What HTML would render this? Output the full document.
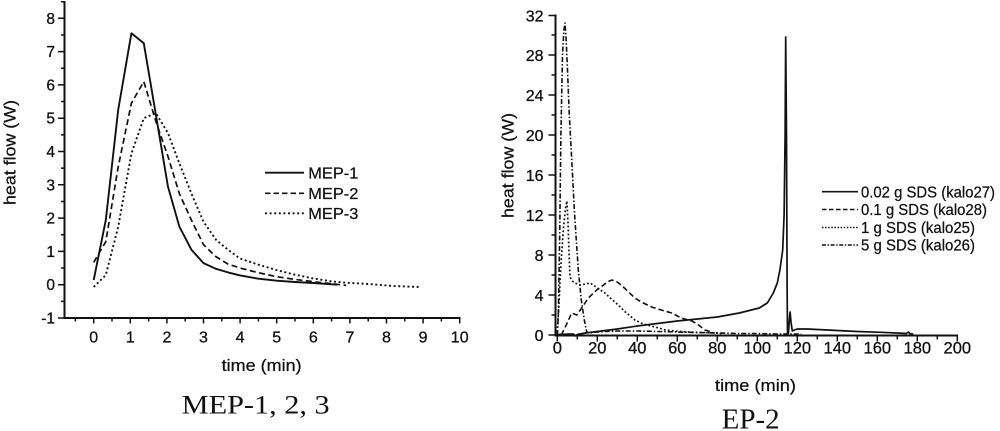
<!DOCTYPE html>
<html>
<head>
<meta charset="utf-8">
<style>
html,body{margin:0;padding:0;background:#fff;}
svg{display:block;}
</style>
</head>
<body>
<svg width="1000" height="431" viewBox="0 0 1000 431" xmlns="http://www.w3.org/2000/svg" font-family="'Liberation Sans', Arial, Helvetica, sans-serif">
<rect width="1000" height="431" fill="#fff"/>
<path d="M64.5 1V319M63.5 318H460.5M555.5 14.5V336.5M554.5 335.5H958" stroke="#111" stroke-width="2" fill="none"/>
<path stroke="#111" stroke-width="1.5" fill="none" d="M58 318h6.5M58 284.7h6.5M58 251.4h6.5M58 218.1h6.5M58 184.8h6.5M58 151.5h6.5M58 118.2h6.5M58 84.9h6.5M58 51.6h6.5M58 18.3h6.5
M61 301.35h3.5M61 268.05h3.5M61 234.75h3.5M61 201.45h3.5M61 168.15h3.5M61 134.85h3.5M61 101.55h3.5M61 68.25h3.5M61 34.95h3.5M61 1.7h3.5
M93.7 318v5.5M130.3 318v5.5M166.9 318v5.5M203.5 318v5.5M240.1 318v5.5M276.7 318v5.5M313.3 318v5.5M349.9 318v5.5M386.5 318v5.5M423.1 318v5.5M459.7 318v5.5
M75.4 318v3.5M112 318v3.5M148.6 318v3.5M185.2 318v3.5M221.8 318v3.5M258.4 318v3.5M295 318v3.5M331.6 318v3.5M368.2 318v3.5M404.8 318v3.5M441.4 318v3.5
M548.5 335h7M548.5 295h7M548.5 255h7M548.5 215h7M548.5 175h7M548.5 135h7M548.5 95h7M548.5 55h7M548.5 15.5h7
M551.5 315h4M551.5 275h4M551.5 235h4M551.5 195h4M551.5 155h4M551.5 115h4M551.5 75h4M551.5 35h4
M557.3 335.5v6M597.3 335.5v6M637.3 335.5v6M677.3 335.5v6M717.3 335.5v6M757.3 335.5v6M797.3 335.5v6M837.3 335.5v6M877.3 335.5v6M917.3 335.5v6M957.3 335.5v6
M577.3 335.5v4M617.3 335.5v4M657.3 335.5v4M697.3 335.5v4M737.3 335.5v4M777.3 335.5v4M817.3 335.5v4M857.3 335.5v4M897.3 335.5v4M937.3 335.5v4"/>
<g fill="#111" stroke="#111" stroke-width="0.3">
<g font-size="15.5" text-anchor="end">
<text x="55" y="323.5">-1</text><text x="55" y="290.2">0</text><text x="55" y="256.9">1</text><text x="55" y="223.6">2</text><text x="55" y="190.3">3</text><text x="55" y="157">4</text><text x="55" y="123.7">5</text><text x="55" y="90.4">6</text><text x="55" y="57.1">7</text><text x="55" y="23.8">8</text>
</g>
<g font-size="16" text-anchor="middle">
<text x="93.7" y="342.7">0</text><text x="130.3" y="342.7">1</text><text x="166.9" y="342.7">2</text><text x="203.5" y="342.7">3</text><text x="240.1" y="342.7">4</text><text x="276.7" y="342.7">5</text><text x="313.3" y="342.7">6</text><text x="349.9" y="342.7">7</text><text x="386.5" y="342.7">8</text><text x="423.1" y="342.7">9</text><text x="459.7" y="342.7">10</text>
</g>
<g font-size="16" text-anchor="end">
<text x="543.5" y="340.8">0</text><text x="543.5" y="300.8">4</text><text x="543.5" y="260.8">8</text><text x="543.5" y="220.8">12</text><text x="543.5" y="180.8">16</text><text x="543.5" y="140.8">20</text><text x="543.5" y="100.8">24</text><text x="543.5" y="60.8">28</text><text x="543.5" y="21.3">32</text>
</g>
<g font-size="16.5" text-anchor="middle">
<text x="557.3" y="353.5">0</text><text x="597.3" y="353.5">20</text><text x="637.3" y="353.5">40</text><text x="677.3" y="353.5">60</text><text x="717.3" y="353.5">80</text><text x="757.3" y="353.5">100</text><text x="797.3" y="353.5">120</text><text x="837.3" y="353.5">140</text><text x="877.3" y="353.5">160</text><text x="917.3" y="353.5">180</text><text x="957.3" y="353.5">200</text>
</g>
<g font-size="16.5" stroke-width="0.25">
<text x="221.7" y="371" textLength="80" lengthAdjust="spacingAndGlyphs">time (min)</text>
<text transform="translate(15.5,205) rotate(-90)" textLength="105" lengthAdjust="spacingAndGlyphs">heat flow (W)</text>
<text x="715" y="391" textLength="81" lengthAdjust="spacingAndGlyphs">time (min)</text>
<text transform="translate(513.5,218) rotate(-90)" textLength="105" lengthAdjust="spacingAndGlyphs">heat flow (W)</text>
</g>
<g font-size="16" stroke-width="0.25">
<text x="308.3" y="178.5" textLength="50" lengthAdjust="spacingAndGlyphs">MEP-1</text>
<text x="308.3" y="199" textLength="50" lengthAdjust="spacingAndGlyphs">MEP-2</text>
<text x="308.3" y="219" textLength="50" lengthAdjust="spacingAndGlyphs">MEP-3</text>
</g>
<g font-size="15.5" stroke-width="0.25">
<text x="861" y="197.3" textLength="134" lengthAdjust="spacingAndGlyphs">0.02 g SDS (kalo27)</text>
<text x="861" y="215.1" textLength="126" lengthAdjust="spacingAndGlyphs">0.1 g SDS (kalo28)</text>
<text x="861" y="233.1" textLength="114" lengthAdjust="spacingAndGlyphs">1 g SDS (kalo25)</text>
<text x="861" y="250.6" textLength="114" lengthAdjust="spacingAndGlyphs">5 g SDS (kalo26)</text>
</g>
</g>
<g font-family="'Liberation Serif', 'Times New Roman', Times, serif" fill="#111">
<text x="181.7" y="413.3" font-size="26" textLength="148" lengthAdjust="spacingAndGlyphs">MEP-1, 2, 3</text>
<text x="721.7" y="428.3" font-size="28" textLength="58" lengthAdjust="spacingAndGlyphs">EP-2</text>
</g>
<g fill="none" stroke="#111" stroke-linejoin="round">
<polyline stroke-width="1.9" points="93.7,280 105.8,220.1 118.2,109.9 131.4,33.3 143.8,43.3 155.9,114.9 168,186.8 179.3,226.4 191.4,249.7 203.5,263.1 215.6,268.7 228,272.4 240.1,275.4 258.4,278.7 276.7,280.7 295,282 313.3,283 337.1,284.7"/>
<polyline stroke-width="1.7" stroke-dasharray="6,3.5" points="93.7,262.4 101,249.7 105.8,241.7 118.2,166.8 131.4,103.2 143.8,81.6 155.9,121.5 168,156.5 179.3,193.5 191.4,220.1 203.5,244.7 215.6,256.4 228,264.1 240.1,268 258.4,272.7 276.7,276.7 295,279.4 313.3,281.7 331.6,283.7 346.2,285.4"/>
<polyline stroke-width="1.9" stroke-dasharray="2,2.6" points="93.7,287 105.8,275 118.2,226.8 131.4,153.5 143.8,118.2 155.9,113.2 168,133.2 179.3,163.2 191.4,193.5 203.5,221.8 216.3,240.1 228,249.7 239.7,258.4 258.4,264.7 276.3,270 295,274.7 312.9,278.4 331.6,281.4 346.2,282.7 368.2,284 393.8,286 419.1,287"/>
<path stroke-width="1.9" d="M265 172.7h39"/>
<path stroke-width="1.7" stroke-dasharray="5.5,3" d="M265 193.3h39"/>
<path stroke-width="1.9" stroke-dasharray="2,2.6" d="M265 213.3h39"/>
<polyline stroke-width="1.7" points="557.3,334.5 573.3,334 575.3,336 577.3,334.5 585.3,333 597.3,331.5 617.3,329 637.3,326 657.3,323.5 677.3,321 697.3,319 717.3,317 739.3,313 759.3,308 767.3,303 773.3,293 777.3,283 779.9,270 782.7,250 784.1,215 785.1,135 785.7,37 786.5,135 787.1,285 787.5,335 788.5,333 789.3,320 790.1,312 791.1,323 792.3,331 794.3,330 797.3,329 807.3,329 817.3,329.5 837.3,330.5 857.3,331.5 877.3,332.2 897.3,333 906.3,333.5 908.3,332 910.3,334 913.3,334"/>
<polyline stroke-width="1.6" stroke-dasharray="5.5,3" points="561.3,335 565.3,327 571.7,313 576.7,315 581.7,308 588.3,298 596.7,290 599.9,288 607.3,282 611.7,280 617.3,282 623.3,287 634.9,298 641.3,302 651.7,307 661.3,310 671.7,313 681.3,318 691.7,321 697.3,324 704.9,330 713.3,332.5"/>
<polyline stroke-width="1.7" stroke-dasharray="1.8,2.2" points="557.3,332 558.9,305 560.9,265 563.3,230 565.3,210 566.9,201 568.1,225 569.1,255 570,277 572.3,281 575,283 579.9,285 585.3,284 589.9,283 593.3,285 597.3,288 604.9,293 611.3,299 618.3,305 625.3,312 634.9,320 643.3,324 654.9,327 665.3,330 674.9,331 687.3,332 701.3,332.5 717.3,333 721.3,333.5"/>
<polyline stroke-width="1.6" stroke-dasharray="5,2,1.5,2" points="557.3,335 558.3,315 559.7,235 560.9,135 562.5,55 563.9,30 565,23 565.9,35 567.3,65 569.3,115 572.3,170 574.3,210 578.3,270 581.3,300 584.3,320 586.7,332 589.3,333 597.3,332 617.3,331 637.3,331 657.3,331.5 677.3,332 697.3,332.5 717.3,333 737.3,333.5 757.3,333.5 777.3,334 801.3,334"/>
<path stroke-width="1.7" d="M822 191.7h36"/>
<path stroke-width="1.6" stroke-dasharray="4.5,2.5" d="M822 209.5h36"/>
<path stroke-width="1.6" stroke-dasharray="1.5,1.6" d="M822 227.5h36"/>
<path stroke-width="1.6" stroke-dasharray="4,1.6,1.4,1.6" d="M822 245h36"/>
</g>
</svg>
</body>
</html>
